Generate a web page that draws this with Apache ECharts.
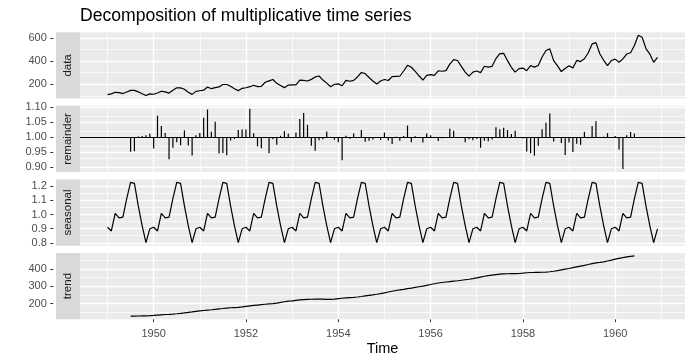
<!DOCTYPE html>
<html><head><meta charset="utf-8">
<script src="https://cdn.jsdelivr.net/npm/echarts@6/dist/echarts.min.js"></script>
<style>html,body{margin:0;padding:0;background:#fff}#c{width:693px;height:364px}</style>
</head><body><div id="c"></div>
<script>
// Time series: monthly, starting Jan 1949
const startYear = 1949;
const freq = 12;

const dataValues = [
  112,118,132,129,121,135,148,148,136,119,104,118,
  115,126,141,135,125,149,170,170,158,133,114,140,
  145,150,178,163,172,178,199,199,184,162,146,166,
  171,180,193,181,183,218,230,242,209,191,172,194,
  196,196,236,235,229,243,264,272,237,211,180,201,
  204,188,235,227,234,264,302,293,259,229,203,229,
  242,233,267,269,270,315,364,347,312,274,237,278,
  284,277,317,313,318,374,413,405,355,306,271,306,
  315,301,356,348,355,422,465,467,404,347,305,336,
  340,318,362,348,363,435,491,505,404,359,310,337,
  360,342,406,396,420,472,548,559,463,407,362,405,
  417,391,419,461,472,535,622,606,508,461,390,432
];

// trend and remainder start at month index 6 (Jul 1949)
const trendOffset = 6;
const trendValues = [
  126.792,127.250,127.958,128.583,129.000,129.750,
  131.250,133.083,134.917,136.417,137.417,138.750,140.917,143.167,145.708,148.417,151.542,154.708,
  157.125,159.542,161.833,164.125,166.667,169.083,171.250,173.583,175.458,176.833,178.042,180.167,
  183.125,186.208,189.042,191.292,193.583,195.833,198.042,199.750,202.208,206.250,210.417,213.375,
  215.833,218.500,220.917,222.917,224.083,224.708,225.333,225.333,224.958,224.583,224.458,225.542,
  228.000,230.458,232.250,233.917,235.625,237.750,240.500,243.958,247.167,250.250,253.500,257.125,
  261.833,266.667,271.125,275.208,278.500,281.958,285.750,289.333,293.250,297.167,301.000,305.458,
  309.958,314.417,318.625,321.750,324.500,327.083,329.542,331.833,334.458,337.542,340.542,344.083,
  348.250,353.000,357.625,361.375,364.500,367.167,369.458,371.208,372.167,372.417,372.750,373.625,
  375.250,377.917,379.500,380.000,380.708,380.958,381.833,383.667,386.500,390.333,394.708,398.625,
  402.542,407.167,411.875,416.333,420.500,425.500,430.708,435.125,437.708,440.958,445.833,450.625,
  456.333,461.375,465.208,469.333,472.750,475.042
];

const seasonalValues = [
  0.9102,0.8836,1.0074,0.9759,0.9814,1.1128,1.2266,1.2199,1.0605,0.9218,0.8012,0.8988,
  0.9102,0.8836,1.0074,0.9759,0.9814,1.1128,1.2266,1.2199,1.0605,0.9218,0.8012,0.8988,
  0.9102,0.8836,1.0074,0.9759,0.9814,1.1128,1.2266,1.2199,1.0605,0.9218,0.8012,0.8988,
  0.9102,0.8836,1.0074,0.9759,0.9814,1.1128,1.2266,1.2199,1.0605,0.9218,0.8012,0.8988,
  0.9102,0.8836,1.0074,0.9759,0.9814,1.1128,1.2266,1.2199,1.0605,0.9218,0.8012,0.8988,
  0.9102,0.8836,1.0074,0.9759,0.9814,1.1128,1.2266,1.2199,1.0605,0.9218,0.8012,0.8988,
  0.9102,0.8836,1.0074,0.9759,0.9814,1.1128,1.2266,1.2199,1.0605,0.9218,0.8012,0.8988,
  0.9102,0.8836,1.0074,0.9759,0.9814,1.1128,1.2266,1.2199,1.0605,0.9218,0.8012,0.8988,
  0.9102,0.8836,1.0074,0.9759,0.9814,1.1128,1.2266,1.2199,1.0605,0.9218,0.8012,0.8988,
  0.9102,0.8836,1.0074,0.9759,0.9814,1.1128,1.2266,1.2199,1.0605,0.9218,0.8012,0.8988,
  0.9102,0.8836,1.0074,0.9759,0.9814,1.1128,1.2266,1.2199,1.0605,0.9218,0.8012,0.8988,
  0.9102,0.8836,1.0074,0.9759,0.9814,1.1128,1.2266,1.2199,1.0605,0.9218,0.8012,0.8988
];

const remainderValues = [
  0.9517,0.9534,1.0022,1.0040,1.0063,1.0118,
  0.9626,1.0714,1.0374,1.0140,0.9269,0.9650,0.9835,0.9734,1.0225,0.9721,0.9390,1.0068,
  1.0138,1.0641,1.0918,1.0177,1.0515,0.9461,0.9474,0.9398,0.9889,0.9939,1.0235,1.0251,
  1.0259,1.0940,1.0134,0.9696,0.9633,1.0004,0.9468,0.9931,0.9746,1.0046,1.0202,1.0115,
  0.9977,1.0152,1.0604,1.0802,1.0413,0.9718,0.9552,0.9895,0.9934,1.0192,1.0009,0.9915,
  0.9830,0.9232,1.0044,0.9944,1.0119,0.9979,1.0237,0.9845,0.9881,0.9927,0.9995,0.9909,
  1.0154,0.9888,0.9775,1.0016,0.9879,1.0040,1.0385,0.9831,1.0032,1.0003,0.9827,1.0126,
  1.0066,0.9970,0.9876,0.9968,0.9985,1.0276,1.0217,1.0005,1.0009,0.9835,0.9933,0.9895,
  0.9938,0.9650,0.9882,0.9868,0.9924,1.0328,1.0261,1.0313,1.0236,1.0108,1.0213,1.0006,
  0.9955,0.9523,0.9469,0.9384,0.9716,1.0261,1.0483,1.0790,0.9857,0.9978,0.9803,0.9406,
  0.9826,0.9506,0.9785,0.9747,1.0177,0.9968,1.0373,1.0531,0.9974,1.0013,1.0134,1.0000,
  1.0039,0.9591,0.8941,1.0065,1.0173,1.0120
];

const titleText = 'Decomposition of multiplicative time series';
const xAxisTitle = 'Time';
const panelNames = ['data', 'remainder', 'seasonal', 'trend'];
const xMajor = [1950, 1952, 1954, 1956, 1958, 1960];
const xMinor = [1949, 1951, 1953, 1955, 1957, 1959, 1961];
const yMajor = [[200, 400, 600], [0.90, 0.95, 1.00, 1.05, 1.10], [0.8, 0.9, 1.0, 1.1, 1.2], [200, 300, 400]];
const yMinor = [[100, 300, 500], [0.925, 0.975, 1.025, 1.075], [0.85, 0.95, 1.05, 1.15], [150, 250, 350, 450]];
const yDecimals = [0, 2, 1, 0];
const remainderBase = 1;

// ---- build ----
const FONT = 'Liberation Sans, Arial, sans-serif';
const timeOf = i => startYear + i / freq;
const dataPts = dataValues.map((v, i) => [timeOf(i), v]);
const seasonalPts = seasonalValues.map((v, i) => [timeOf(i), v]);
const trendPts = trendValues.map((v, i) => [timeOf(i + trendOffset), v]);
const remainderPts = remainderValues.map((v, i) => [timeOf(i + trendOffset), v]);
const panelPts = [dataPts, remainderPts, seasonalPts, trendPts];

const tMin = timeOf(0), tMax = timeOf(dataValues.length - 1);
const xPad = 0.05 * (tMax - tMin);
const xMin = tMin - xPad, xMax = tMax + xPad;

const L = 80, R = 8, TOP = 32.3, BOTTOM = 319.2, GAP = 7.3;
const H = (BOTTOM - TOP - 3 * GAP) / 4;
const tops = [0, 1, 2, 3].map(k => TOP + k * (H + GAP));

const grids = [], xAxes = [], yAxes = [], series = [], graphics = [];
panelPts.forEach((pts, k) => {
  const vals = pts.map(p => p[1]);
  const lo = Math.min(...vals), hi = Math.max(...vals);
  const pad = 0.05 * (hi - lo);
  grids.push({ left: L, right: R, top: tops[k], height: H, show: true, backgroundColor: '#EBEBEB', borderWidth: 0, containLabel: false });
  const bottom = k === 3;
  xAxes.push({
    type: 'value', gridIndex: k, min: xMin, max: xMax,
    axisLine: { show: false }, splitLine: { show: false },
    axisTick: { show: bottom, length: 3, customValues: xMajor, lineStyle: { color: '#333333', width: 1 } },
    axisLabel: { show: bottom, customValues: xMajor, color: '#4D4D4D', fontSize: 11, margin: 9, fontFamily: FONT, formatter: v => String(Math.round(v)) },
    name: bottom ? xAxisTitle : '', nameLocation: 'middle', nameGap: 22,
    nameTextStyle: { color: '#000', fontSize: 14.5, fontFamily: FONT }
  });
  yAxes.push({
    type: 'value', gridIndex: k, min: lo - pad, max: hi + pad, position: 'left', offset: 26.7,
    axisLine: { show: false }, splitLine: { show: false },
    axisTick: { show: true, length: 3, customValues: yMajor[k], lineStyle: { color: '#333333', width: 1 } },
    axisLabel: { customValues: yMajor[k], color: '#4D4D4D', fontSize: 11, margin: 6.5, fontFamily: FONT, formatter: v => Number(v).toFixed(yDecimals[k]) }
  });
  const ml = [];
  xMinor.forEach(v => ml.push({ xAxis: v, lineStyle: { color: '#FFFFFF', width: 0.7, type: 'solid' } }));
  yMinor[k].forEach(v => ml.push({ yAxis: v, lineStyle: { color: '#FFFFFF', width: 0.7, type: 'solid' } }));
  xMajor.forEach(v => ml.push({ xAxis: v, lineStyle: { color: '#FFFFFF', width: 1.4, type: 'solid' } }));
  yMajor[k].forEach(v => ml.push({ yAxis: v, lineStyle: { color: '#FFFFFF', width: 1.4, type: 'solid' } }));
  series.push({
    type: 'line', xAxisIndex: k, yAxisIndex: k, data: [], z: 1, silent: true,
    markLine: { silent: true, symbol: ['none', 'none'], animation: false, label: { show: false }, emphasis: { disabled: true }, data: ml }
  });
  if (k === 1) {
    series.push({
      type: 'custom', xAxisIndex: k, yAxisIndex: k, data: pts, z: 10, silent: true, animation: false,
      renderItem: (params, api) => {
        const t = api.value(0), v = api.value(1);
        const a = api.coord([t, remainderBase]), b = api.coord([t, v]);
        return { type: 'line', shape: { x1: a[0], y1: a[1], x2: b[0], y2: b[1] }, style: { stroke: '#000', lineWidth: 1.2 } };
      },
      markLine: { silent: true, symbol: ['none', 'none'], animation: false, label: { show: false }, emphasis: { disabled: true },
        data: [{ yAxis: remainderBase, lineStyle: { color: '#000', width: 1.2, type: 'solid' } }] }
    });
  } else {
    series.push({
      type: 'line', xAxisIndex: k, yAxisIndex: k, data: pts, z: 10, silent: true, animation: false,
      showSymbol: false, symbol: 'none', lineStyle: { color: '#000', width: 1.2 }
    });
  }
  graphics.push({ type: 'rect', left: 56, top: tops[k], shape: { width: 24, height: H }, style: { fill: '#D9D9D9' }, silent: true });
  graphics.push({ type: 'text', x: 68, y: tops[k] + H / 2, rotation: Math.PI / 2, silent: true,
    style: { text: panelNames[k], fill: '#1A1A1A', fontSize: 11.5, fontFamily: FONT, align: 'center', verticalAlign: 'middle' } });
});

const chart = echarts.init(document.getElementById('c'), null, { renderer: 'canvas' });
chart.setOption({
  animation: false,
  backgroundColor: '#FFFFFF',
  title: { text: titleText, left: 80, top: 7, padding: 0, textStyle: { color: '#000', fontSize: 17.6, fontWeight: 'normal', fontFamily: FONT } },
  grid: grids, xAxis: xAxes, yAxis: yAxes, series: series, graphic: graphics
});
</script></body></html>
